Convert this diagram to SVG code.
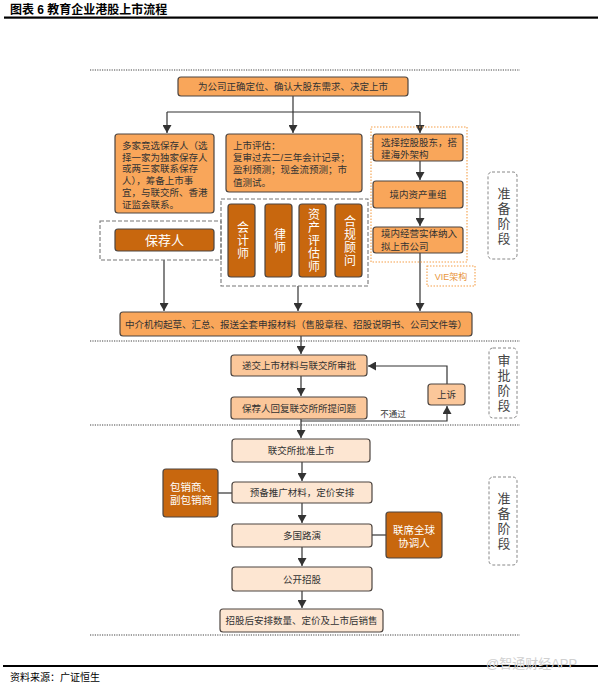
<svg xmlns="http://www.w3.org/2000/svg" width="604" height="686" viewBox="0 0 604 686">
<style>
text{font-family:"Liberation Sans","Noto Sans CJK SC",sans-serif;fill:#333}
.b1{fill:#F9A65A;stroke:#4d4540;stroke-width:1.2}
.b2{fill:#FBC79A;stroke:#4d4540;stroke-width:1.2}
.b3{fill:#FDE6D2;stroke:#4d4540;stroke-width:1.2}
.dk{fill:#C8670E;stroke:#4d4540;stroke-width:1.2}
.t{font-size:9.5px}
.tc{font-size:9.5px;text-anchor:middle}
.w{fill:#fff;text-anchor:middle}
.v{fill:#fff;text-anchor:middle;writing-mode:vertical-rl;font-size:12px;letter-spacing:1px}
.dot{stroke:#444;stroke-width:1.2;stroke-dasharray:1.2 1.2;fill:none}
.dash{fill:none;stroke:#777;stroke-width:1.1;stroke-dasharray:4 2}
.stage{fill:none;stroke:#888;stroke-width:1;stroke-dasharray:3 2}
.st{font-size:13px;text-anchor:middle;fill:#444;writing-mode:vertical-rl;letter-spacing:2px}
.c{stroke:#333;stroke-width:1.2;fill:none}
.a{stroke:#333;stroke-width:1.2;fill:none;marker-end:url(#ah)}
</style>
<defs>
<marker id="ah" markerUnits="userSpaceOnUse" markerWidth="8" markerHeight="9" refX="8" refY="4.5" orient="auto">
<path d="M0,0 L8,4.5 L0,9 z" fill="#333"/>
</marker>
</defs>
<rect width="604" height="686" fill="#fff"/>
<text x="10" y="14" style="font-size:12px;font-weight:bold;fill:#000">图表 6 教育企业港股上市流程</text>
<rect x="4" y="16.5" width="594" height="2.2" fill="#000"/>
<line class="dot" x1="90" y1="70" x2="520" y2="70"/>
<line class="dot" x1="90" y1="341" x2="520" y2="341"/>
<line class="dot" x1="90" y1="425" x2="520" y2="425"/>
<line class="dot" x1="90" y1="635" x2="520" y2="635"/>

<g id="stage1"><rect class="stage" x="488" y="172" width="29" height="87" rx="4"/>
<text class="st" x="503" y="216.5">准备阶段</text></g>
<g id="stage2"><rect class="stage" x="489" y="348" width="28" height="70" rx="4"/>
<text class="st" x="503" y="384">审批阶段</text></g>
<g id="stage3"><rect class="stage" x="489" y="477" width="28" height="88" rx="4"/>
<text class="st" x="503" y="522">准备阶段</text></g>

<g id="connectors">
<line class="c" x1="293" y1="96" x2="293" y2="112"/>
<line class="c" x1="167" y1="112" x2="420" y2="112"/>
<line class="a" x1="167" y1="112" x2="167" y2="133"/>
<line class="a" x1="293" y1="112" x2="293" y2="133"/>
<line class="a" x1="420" y1="112" x2="420" y2="133"/>
<line class="a" x1="420" y1="161" x2="420" y2="180"/>
<line class="a" x1="420" y1="208" x2="420" y2="226"/>
<line class="a" x1="420" y1="253" x2="420" y2="311"/>
<line class="a" x1="164" y1="260" x2="164" y2="311"/>
<line class="a" x1="298" y1="286" x2="298" y2="311"/>
<line class="a" x1="301" y1="336" x2="301" y2="354"/>
<line class="a" x1="301" y1="376" x2="301" y2="396"/>
<line class="a" x1="301" y1="419" x2="301" y2="438"/>
<polyline class="a" points="301,421 447,421 447,406"/>
<polyline class="a" points="447,384 447,366 368,366"/>
<line class="a" x1="302" y1="462" x2="302" y2="481"/>
<line class="a" x1="302" y1="503" x2="302" y2="523"/>
<line class="a" x1="302" y1="547" x2="302" y2="566"/>
<line class="a" x1="302" y1="591" x2="302" y2="608"/>
<line class="c" x1="218" y1="493" x2="232" y2="493"/>
<line class="c" x1="372" y1="535" x2="386" y2="535"/>
</g>

<g id="n-top"><rect class="b1" x="178" y="77" width="230" height="19" rx="3"/>
<text class="tc" x="293" y="90">为公司正确定位、确认大股东需求、决定上市</text></g>

<g id="n-sponsor-select"><rect class="b1" x="115" y="134" width="99" height="79" rx="3"/>
<text class="t" x="122" y="149"><tspan x="122">多家竞选保存人（选</tspan><tspan x="122" dy="11.7">择一家为独家保存人</tspan><tspan x="122" dy="11.7">或两三家联系保存</tspan><tspan x="122" dy="11.7">人），筹备上市事</tspan><tspan x="122" dy="11.7">宜，与联交所、香港</tspan><tspan x="122" dy="11.7">证监会联系。</tspan></text></g>

<g id="n-eval"><rect class="b1" x="226" y="134" width="136" height="58" rx="3"/>
<text class="t" x="233" y="148.5"><tspan x="233">上市评估：</tspan><tspan x="233" dy="12">复审过去二/三年会计记录；</tspan><tspan x="233" dy="12.5">盈利预测；现金流预测；市</tspan><tspan x="233" dy="12.5">值测试。</tspan></text></g>

<g id="n-vie"><rect x="371" y="127" width="96" height="135" fill="none" stroke="#F5A04A" stroke-width="1.1" stroke-dasharray="1.5 1.5"/>
<rect class="b1" x="373" y="134" width="90" height="27" rx="3"/>
<text class="t" x="381" y="145.5"><tspan x="381">选择控股股东，搭</tspan><tspan x="381" dy="12">建海外架构</tspan></text>
<rect class="b1" x="373" y="181" width="90" height="27" rx="3"/>
<text class="tc" x="418" y="198">境内资产重组</text>
<rect class="b1" x="373" y="227" width="90" height="26" rx="3"/>
<text class="t" x="381" y="237"><tspan x="381">境内经营实体纳入</tspan><tspan x="381" dy="12.5">拟上市公司</tspan></text>
<rect x="427" y="266" width="48" height="20" fill="none" stroke="#F5A04A" stroke-width="1.1" stroke-dasharray="1.5 1.5"/>
<text x="451" y="279.5" style="font-size:9px;text-anchor:middle;fill:#E8953A">VIE架构</text></g>

<g id="n-sponsor"><rect class="dash" x="100" y="221" width="121" height="39"/>
<rect class="dk" x="115" y="229" width="99" height="22" rx="3"/>
<text class="w" x="164.5" y="245" style="font-size:13px">保荐人</text></g>

<g id="n-pros"><rect class="dash" x="221" y="199" width="147" height="87"/>
<rect class="dk" x="228" y="204" width="27" height="73" rx="3"/>
<text class="v" x="241.5" y="241">会计师</text>
<rect class="dk" x="265" y="204" width="27" height="73" rx="3"/>
<text class="v" x="278.5" y="241">律师</text>
<rect class="dk" x="299" y="204" width="27" height="73" rx="3"/>
<text class="v" x="312.5" y="241">资产评估师</text>
<rect class="dk" x="335" y="204" width="27" height="73" rx="3"/>
<text class="v" x="348.5" y="241">合规顾问</text></g>

<g id="n-docs"><rect class="b1" x="120" y="312" width="352" height="24" rx="3"/>
<text class="tc" x="296" y="327.5">中介机构起草、汇总、报送全套申报材料（售股章程、招股说明书、公司文件等）</text></g>

<g id="n-submit"><rect class="b2" x="231" y="355" width="136" height="21" rx="3"/>
<text class="tc" x="299" y="369">递交上市材料与联交所审批</text></g>
<g id="n-reply"><rect class="b2" x="231" y="397" width="136" height="22" rx="3"/>
<text class="tc" x="299" y="411.5">保荐人回复联交所所提问题</text></g>
<g id="n-appeal"><rect class="b2" x="428" y="384" width="37" height="21" rx="3"/>
<text class="tc" x="446.5" y="398">上诉</text></g>
<text x="393" y="417" style="font-size:8.5px;text-anchor:middle">不通过</text>

<g id="n-approve"><rect class="b3" x="232" y="439" width="138" height="23" rx="3"/>
<text class="tc" x="301" y="454">联交所批准上市</text></g>
<g id="n-prep"><rect class="b3" x="232" y="482" width="140" height="21" rx="3"/>
<text class="tc" x="302" y="496">预备推广材料，定价安排</text></g>
<g id="n-roadshow"><rect class="b3" x="232" y="524" width="140" height="23" rx="3"/>
<text class="tc" x="302" y="539">多国路演</text></g>
<g id="n-ipo"><rect class="b3" x="232" y="567" width="140" height="24" rx="3"/>
<text class="tc" x="302" y="582.5">公开招股</text></g>
<g id="n-after"><rect class="b3" x="220" y="609" width="163" height="23" rx="3"/>
<text class="tc" x="301.5" y="624">招股后安排数量、定价及上市后销售</text></g>

<g id="n-under"><rect class="dk" x="163" y="469" width="55" height="48" rx="3"/>
<text style="font-size:10.5px;fill:#fff" x="170" y="490.5"><tspan x="170">包销商、</tspan><tspan x="170" dy="13.5">副包销商</tspan></text></g>
<g id="n-coord"><rect class="dk" x="386" y="512" width="56" height="46" rx="3"/>
<text class="w" style="font-size:10.5px" x="414" y="534"><tspan x="414">联席全球</tspan><tspan x="414" dy="13">协调人</tspan></text></g>

<rect x="3" y="665" width="595" height="2" fill="#000"/>
<text x="10" y="681" style="font-size:10px;fill:#000">资料来源：广证恒生</text>
<text x="486" y="668" style="font-size:13px;fill:#d0d0d0">@智通财经APP</text>
</svg>
